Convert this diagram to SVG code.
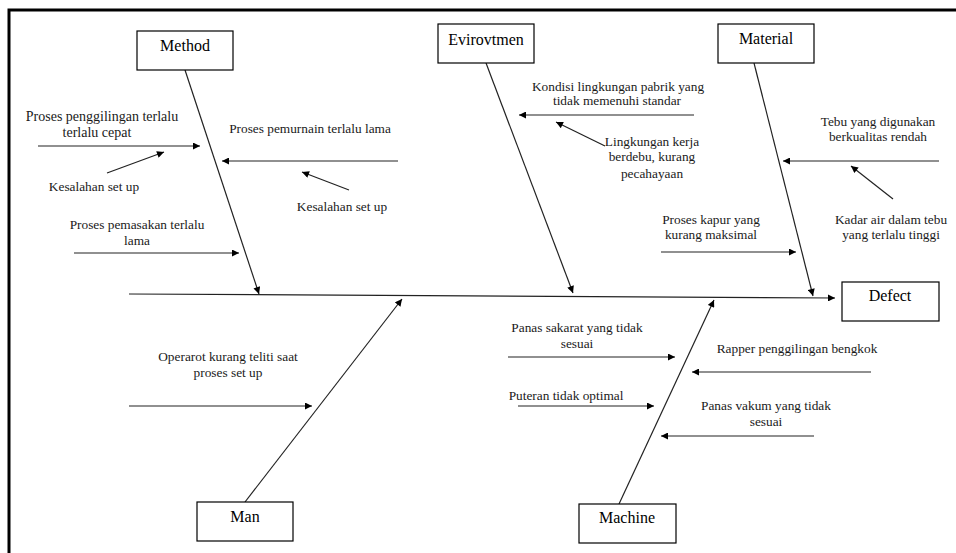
<svg xmlns="http://www.w3.org/2000/svg" width="956" height="553" viewBox="0 0 956 553">
<style>
.bx{fill:#fff;stroke:#000;stroke-width:1.2}
.bl{font-family:"Liberation Serif","Times New Roman",serif;font-size:16px;fill:#000;text-anchor:middle}
.t{font-family:"Liberation Serif","Times New Roman",serif;font-size:13.33px;fill:#1a1a1a;text-anchor:middle}
.t14{font-size:14px}
.ln{stroke:#222;stroke-width:1.2;fill:none;marker-end:url(#ah)}
</style>
<defs>
<marker id="ah" viewBox="0 0 10 10" refX="10" refY="5" markerWidth="8" markerHeight="7" markerUnits="userSpaceOnUse" orient="auto">
<path d="M0,0 L10,5 L0,10 z" fill="#000"/>
</marker>
</defs>
<rect width="956" height="553" fill="#fff"/>
<path d="M9,553 V10 H956" fill="none" stroke="#000" stroke-width="3"/>

<g id="connectors">
<path class="ln" d="M129,294 L835,298"/>
<path class="ln" d="M185,70 L259,294"/>
<path class="ln" d="M486,63 L573,293"/>
<path class="ln" d="M754,63 L813,296"/>
<path class="ln" d="M245,502 L402,299"/>
<path class="ln" d="M619,504 L714,300"/>
<path class="ln" d="M38,146 L200,146"/>
<path class="ln" d="M107,173 L164,152"/>
<path class="ln" d="M398,161 L222,161"/>
<path class="ln" d="M349,190 L302,172"/>
<path class="ln" d="M74,253 L239,253"/>
<path class="ln" d="M694,115 L519,115"/>
<path class="ln" d="M605,146 L556,122"/>
<path class="ln" d="M939,161 L783,161"/>
<path class="ln" d="M893,199 L851,166"/>
<path class="ln" d="M661,252 L796,252"/>
<path class="ln" d="M129,406 L312,406"/>
<path class="ln" d="M508,357 L675,357"/>
<path class="ln" d="M871,372 L692,372"/>
<path class="ln" d="M518,406 L654,406"/>
<path class="ln" d="M814,436 L661,436"/>
</g>

<g id="method">
<rect class="bx" x="137" y="31" width="96" height="39"/>
<text class="bl" x="185" y="51">Method</text>
</g>
<g id="environment">
<rect class="bx" x="438" y="24" width="96" height="39"/>
<text class="bl" x="486" y="45">Evirovtmen</text>
</g>
<g id="material">
<rect class="bx" x="718" y="24" width="96" height="39"/>
<text class="bl" x="766" y="44">Material</text>
</g>
<g id="defect">
<rect class="bx" x="842" y="282" width="97" height="39"/>
<text class="bl" x="890" y="301">Defect</text>
</g>
<g id="man">
<rect class="bx" x="197" y="502" width="96" height="39"/>
<text class="bl" x="245" y="522">Man</text>
</g>
<g id="machine">
<rect class="bx" x="579" y="504" width="97" height="39"/>
<text class="bl" x="627" y="523">Machine</text>
</g>

<g id="labels">
<text class="t t14" x="102" y="121">Proses penggilingan terlalu</text>
<text class="t t14" x="97" y="137">terlalu cepat</text>
<text class="t" x="94" y="191">Kesalahan set up</text>
<text class="t" x="310" y="133">Proses pemurnain terlalu lama</text>
<text class="t" x="342" y="211">Kesalahan set up</text>
<text class="t" x="137" y="229">Proses pemasakan terlalu</text>
<text class="t" x="137" y="245">lama</text>

<text class="t" x="618" y="91">Kondisi lingkungan pabrik yang</text>
<text class="t" x="617" y="105">tidak memenuhi standar</text>
<text class="t" x="652" y="146">Lingkungan kerja</text>
<text class="t" x="652" y="161">berdebu, kurang</text>
<text class="t" x="652" y="178">pecahayaan</text>

<text class="t" x="878" y="126">Tebu yang digunakan</text>
<text class="t" x="878" y="141">berkualitas rendah</text>
<text class="t" x="891" y="224">Kadar air dalam tebu</text>
<text class="t" x="891" y="239">yang terlalu tinggi</text>
<text class="t" x="711" y="224">Proses kapur yang</text>
<text class="t" x="711" y="239">kurang maksimal</text>

<text class="t" x="228" y="361">Operarot kurang teliti saat</text>
<text class="t" x="228" y="377">proses set up</text>

<text class="t" x="577" y="332">Panas sakarat yang tidak</text>
<text class="t" x="577" y="348">sesuai</text>
<text class="t" x="797" y="353">Rapper penggilingan bengkok</text>
<text class="t" x="566" y="400">Puteran tidak optimal</text>
<text class="t" x="766" y="410">Panas vakum yang tidak</text>
<text class="t" x="766" y="426">sesuai</text>
</g>
</svg>
